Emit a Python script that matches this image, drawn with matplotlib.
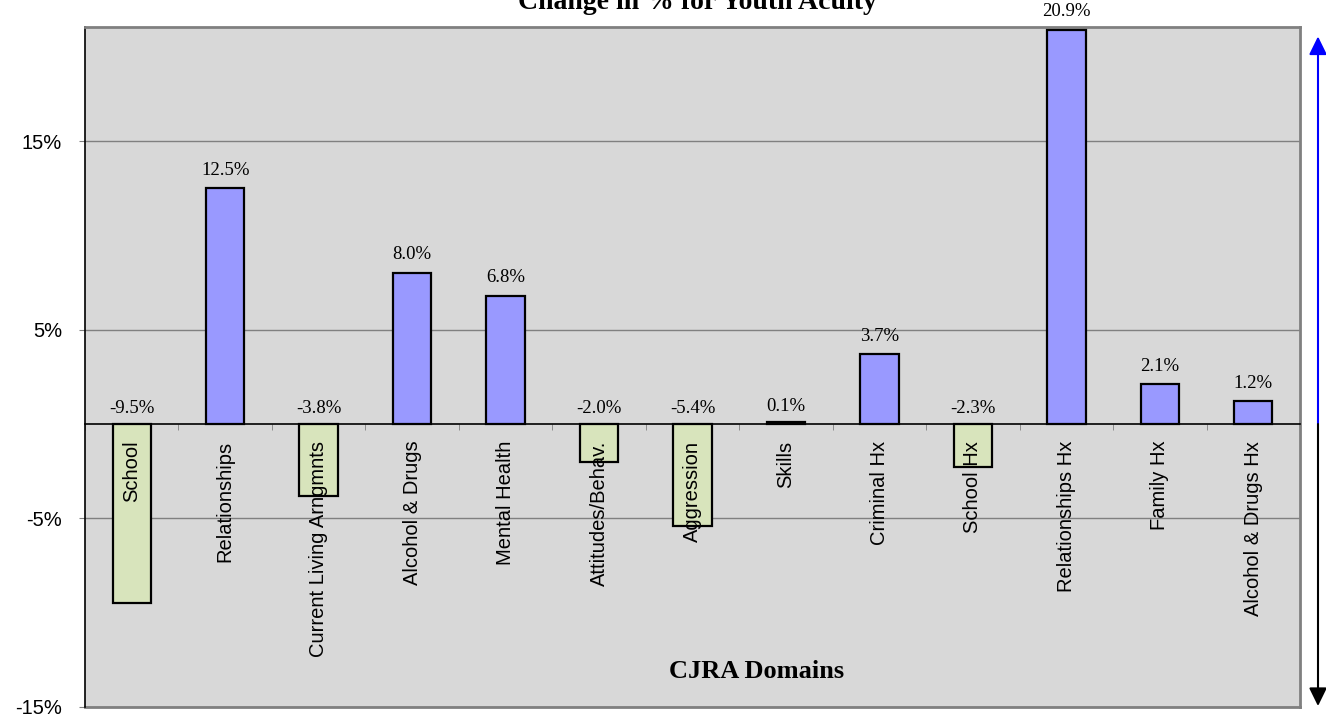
import matplotlib
matplotlib.use("Agg")
import matplotlib.pyplot as plt
import numpy as np

# CJRA domains and change in % for youth acuity
domains = ["School", "Relationships", "Current Living Arngmnts", "Alcohol & Drugs",
           "Mental Health", "Attitudes/Behav.", "Aggression", "Skills", "Criminal Hx",
           "School Hx", "Relationships Hx", "Family Hx", "Alcohol & Drugs Hx"]
change = [-9.5, 12.5, -3.8, 8.0, 6.8, -2.0, -5.4, 0.1, 3.7, -2.3, 20.9, 2.1, 1.2]
yticks = [-15, -5, 5, 15]

pos_col = '#9999FF'
neg_col = '#D8E4BC'
serif = 'Liberation Serif'
sans = 'Liberation Sans'

fig = plt.figure(figsize=(13.26, 7.17), dpi=100)
ax = fig.add_axes([85/1326, 1-707/717, 1215/1326, 680/717])
ax.set_facecolor('#D8D8D8')

x = np.arange(len(domains))
colors = [pos_col if v >= 0 else neg_col for v in change]
ax.bar(x, change, width=0.41, color=colors, edgecolor='black', linewidth=1.6, zorder=3)

ax.set_xlim(-0.5, len(domains) - 0.5)
ax.set_ylim(-15, 21.05)

# value labels
for i, v in enumerate(change):
    top = max(v, 0)
    off = 7 if v > 1 else 5
    ax.annotate(f"{v:.1f}%", (i, top), xytext=(0, off), textcoords='offset points',
                ha='center', va='bottom', fontsize=13.5, family=serif, zorder=5)

# category names, drawn over the bars
for i, name in enumerate(domains):
    ax.annotate(name, (i, 0), xytext=(0, -12), textcoords='offset points',
                rotation=90, ha='center', va='top', fontsize=14.5, family=sans, zorder=6)

# y axis
ax.set_yticks(yticks)
ax.set_yticklabels([f"{t}%" for t in yticks], fontsize=14.5, family=sans)
ax.yaxis.grid(True, color='#808080', linewidth=1)
ax.set_axisbelow(True)
ax.tick_params(axis='y', length=4, color='#808080', pad=12.5)

# x axis at zero
ax.spines['bottom'].set_position(('data', 0))
ax.spines['bottom'].set_color('black')
ax.spines['bottom'].set_linewidth(1.2)
ax.spines['bottom'].set_zorder(4)
ax.set_xticks(x)
ax.set_xticklabels([])
ax.set_xticks(np.arange(len(domains) + 1) - 0.5, minor=True)
ax.tick_params(axis='x', which='major', length=0)
ax.tick_params(axis='x', which='minor', length=4, color='#808080')

ax.spines['left'].set_color('black')
ax.spines['left'].set_linewidth(1.2)
for s in ['top', 'right']:
    ax.spines[s].set_color('#808080')
    ax.spines[s].set_linewidth(2)
# bottom frame of the plot area
ax.plot([0, 1], [0, 0], transform=ax.transAxes, color='#808080', lw=2, clip_on=False)

ax.text(757, 717 - 671, "CJRA Domains", transform=None, ha='center', va='center',
        fontsize=19, fontweight='bold', family=serif)
fig.text(697/1326, 1 - 9/717, "Change in % for Youth Acuity", ha='center', va='baseline',
         fontsize=20, fontweight='bold', family=serif)

# direction arrows on the right
ax_x = (1318 - 85) / 1215
ax.annotate("", xy=(ax_x, 20.55), xytext=(ax_x, 0),
            xycoords=('axes fraction', 'data'), textcoords=('axes fraction', 'data'),
            arrowprops=dict(arrowstyle='-|>,head_length=0.55,head_width=0.27', color='blue',
                            lw=1.5, mutation_scale=20, shrinkA=0, shrinkB=0), annotation_clip=False)
ax.annotate("", xy=(ax_x, -14.95), xytext=(ax_x, 0),
            xycoords=('axes fraction', 'data'), textcoords=('axes fraction', 'data'),
            arrowprops=dict(arrowstyle='-|>,head_length=0.55,head_width=0.27', color='black',
                            lw=1.5, mutation_scale=20, shrinkA=0, shrinkB=0), annotation_clip=False)

fig.savefig("out.png", dpi=100)
